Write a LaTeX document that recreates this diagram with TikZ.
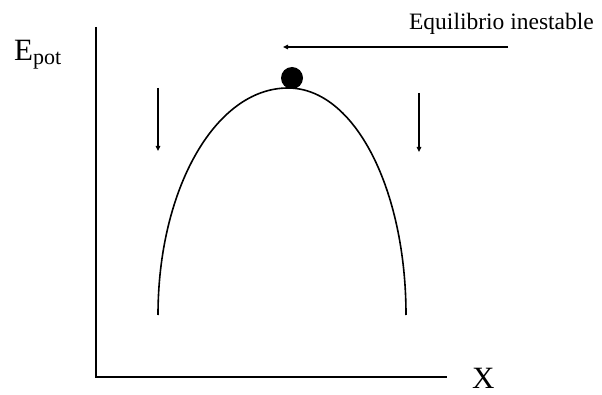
\documentclass[tikz,border=0pt]{standalone}
\usepackage{fontspec}
\setmainfont{Liberation Serif}
\usetikzlibrary{arrows.meta}
\tikzset{
  axisline/.style={line width=2pt},
  hump/.style={line width=1.6pt},
  pointer/.style={line width=1.4pt, -{Triangle[length=5pt,width=4.5pt]}},
}

\begin{document}
\begin{tikzpicture}[x=1pt,y=-1pt]
  \useasboundingbox (0,0) rectangle (602,395);
  % axes
  \coordinate (origin) at (96,377);
  \coordinate (ytop) at (96,27);
  \coordinate (xend) at (447,377);
  \draw[axisline] (ytop) -- (origin) -- (xend);
  \node[font=\fontsize{31}{31}\selectfont, anchor=base west, inner sep=0pt] (epot) at (14,61)
    {E\raisebox{-4pt}{\fontsize{22}{22}\selectfont pot}};
  \node[font=\fontsize{31}{31}\selectfont, anchor=base west, inner sep=0pt] (xlab) at (472,388) {X};
  % potential hill
  \coordinate (lfoot) at (158,315);
  \coordinate (peak) at (288,88);
  \coordinate (rfoot) at (406,315);
  \draw[hump] (lfoot) .. controls (158,190) and (215,88) .. (peak)
    .. controls (355,88) and (406,190) .. (rfoot);
  \node[circle, fill=black, inner sep=0pt, minimum size=22pt] (ball) at (292,78) {};
  % falling directions
  \coordinate (lfall) at (158,88);
  \coordinate (lland) at (158,151);
  \draw[pointer] (lfall) -- (lland);
  \coordinate (rfall) at (419,93);
  \coordinate (rland) at (419,152);
  \draw[pointer] (rfall) -- (rland);
  % label
  \node[font=\fontsize{23.5}{23.5}\selectfont, anchor=base east, inner sep=0pt] (equil) at (594,30) {Equilibrio inestable};
  \coordinate (tail) at (508,47);
  \coordinate (tip) at (283,47);
  \draw[pointer] (tail) -- (tip);
\end{tikzpicture}
\end{document}
